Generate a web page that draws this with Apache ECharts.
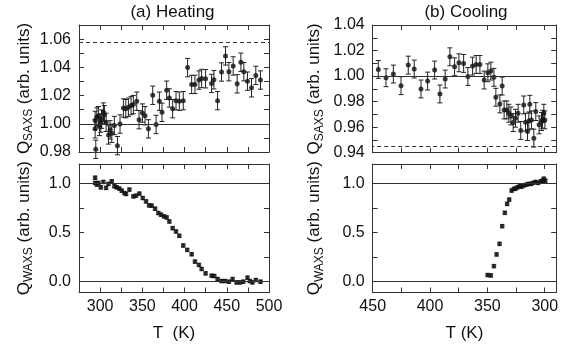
<!DOCTYPE html>
<html><head><meta charset="utf-8">
<script src="https://cdn.jsdelivr.net/npm/echarts@6/dist/echarts.min.js"></script>
<style>html,body{margin:0;padding:0;background:#fff}#c{width:570px;height:351px}</style>
</head><body><div id="c"></div>
<script>
// ---- data ----
const heatSaxsT=[294.1,294.1,294.9,296.1,298.0,299.2,300.8,301.9,303.9,305.1,307.1,309.9,311.8,313.8,316.9,320.5,323.6,327.6,330.4,333.5,336.7,339.4,343.4,346.1,350.1,353.2,357.2,362.3,366.3,370.2,373.3,378.8,382.0,385.9,389.9,393.8,398.5,403.6,408.4,412.3,417.0,420.2,424.9,432.0,434.8,439.1,443.8,448.5,452.5,457.6,462.3,466.7,470.2,474.5,479.3,484.4,489.9];
const heatSaxsQ=[1.0024,0.9964,0.9819,1.0048,1.0057,0.9981,1.0005,1.0033,1.0083,1.0064,1.0010,0.9921,0.9957,0.9933,0.9988,0.9845,0.9998,1.0112,1.0107,1.0117,1.0129,1.0136,1.0160,1.0029,1.0076,1.0057,0.9964,1.0202,0.9995,1.0160,1.0081,1.0238,1.0183,1.0107,1.0164,1.0160,1.0164,1.0398,1.0279,1.0279,1.0310,1.0321,1.0319,1.0286,1.0312,1.0164,1.0367,1.0481,1.0369,1.0410,1.0283,1.0436,1.0369,1.0302,1.0255,1.0343,1.0310];
const heatSaxsErr=0.0065;

const heatWaxsT=[294.1,294.1,296.1,298.0,300.8,303.9,307.1,309.9,313.8,316.9,319.7,322.8,325.6,328.8,330.7,334.7,339.4,342.6,346.5,350.5,354.4,358.0,361.1,365.1,369.0,372.1,375.7,378.8,382.0,385.9,389.9,393.8,398.5,403.2,408.4,412.3,417.0,420.2,424.9,432.0,435.2,439.1,443.8,447.8,452.5,456.9,461.6,465.5,469.5,474.5,477.3,480.4,484.4,489.9];
const heatWaxsQ=[1.06,1.007,0.990,1.007,0.962,1.017,0.956,0.997,1.024,0.973,0.962,0.949,0.928,0.904,0.894,0.939,0.870,0.877,0.898,0.853,0.819,0.778,0.775,0.744,0.700,0.683,0.666,0.655,0.614,0.546,0.512,0.468,0.369,0.324,0.280,0.205,0.171,0.130,0.085,0.061,0.058,0.027,0.007,0.007,0.000,0.027,-0.007,-0.007,0.000,0.041,0.007,-0.007,0.017,0.000];

const coolSaxsT=[445.1,438.4,432.0,425.3,419.0,413.8,407.9,402.1,396.0,391.4,386.8,382.7,378.6,374.8,370.7,367.0,362.9,359.8,356.5,352.8,349.6,347.0,344.3,342.6,339.1,337.1,335.4,333.0,331.3,329.5,327.5,325.5,323.2,320.9,318.3,316.8,315.0,313.9,313.0,311.6,309.5,307.8,304.9,302.8,301.9,300.8,299.9];
const coolSaxsQ=[1.0052,0.9987,1.0016,0.9925,1.0086,1.0055,0.9899,0.9961,1.0047,0.9860,0.9977,1.0151,1.0073,1.0104,1.0099,0.9997,1.0078,1.0091,1.0091,0.9969,1.0026,1.0039,0.9990,0.9834,0.9782,0.9922,0.9735,0.9735,0.9709,0.9688,0.9636,0.9670,0.9709,0.9574,0.9774,0.9639,0.9566,0.9649,0.9779,0.9657,0.9514,0.9722,0.9618,0.9644,0.9662,0.9709,0.9657];
const coolSaxsErr=0.007;

const coolWaxsT=[349.8,347.0,344.3,342.0,339.4,337.1,334.8,332.8,331.0,328.9,326.9,325.5,323.7,321.7,320.2,318.0,315.9,313.9,312.1,310.1,308.0,305.8,303.5,302.0,300.8,299.5];
const coolWaxsQ=[0.068,0.064,0.159,0.278,0.386,0.566,0.702,0.793,0.837,0.929,0.946,0.949,0.963,0.973,0.969,0.983,0.990,0.997,0.997,1.007,1.017,1.007,1.024,1.030,1.050,1.030];
const waxsErr=0.015;

// reference lines
const heatSaxsSolid=[1.00], heatSaxsDashed=[1.058];
const coolSaxsSolid=[1.00], coolSaxsDashed=[0.945];
const waxsSolid=[0.0,1.0];

// ticks and tick labels
const heatTTicks=[300,325,350,375,400,425,450,475,500];
const heatTLabels=[300,350,400,450,500];
const coolTTicks=[300,325,350,375,400,425,450];
const coolTLabels=[300,350,400,450];
const heatSaxsTicks=[0.98,0.99,1.00,1.01,1.02,1.03,1.04,1.05,1.06];
const heatSaxsLabels=[0.98,1.00,1.02,1.04,1.06];
const coolSaxsTicks=[0.94,0.95,0.96,0.97,0.98,0.99,1.00,1.01,1.02,1.03];
const coolSaxsLabels=[0.94,0.96,0.98,1.00,1.02,1.04];
const waxsTicks=[0,0.25,0.5,0.75,1.0];
const waxsLabels=[0,0.5,1.0];

// ---- chart ----
const FONT='Liberation Sans';
const AX='#333';
const grids=[
  {left:79,top:25,width:190,height:127},
  {left:79,top:164,width:190,height:128.5},
  {left:372.7,top:25,width:183.5,height:127.7},
  {left:372.7,top:164,width:183.5,height:128.5}
];
function axisBase(gi,pos,min,max,ticks,labels,showLabels,dec){
  return {type:'value',gridIndex:gi,position:pos,min:min,max:max,
    axisLine:{show:true,onZero:false,lineStyle:{color:AX,width:1}},
    axisTick:{show:true,inside:true,length:5,customValues:ticks,lineStyle:{color:AX,width:1}},
    axisLabel:{show:showLabels,customValues:labels,margin:showLabels&&(pos==='left'||pos==='right')?8:6,
      fontSize:16,fontFamily:FONT,color:'#111',formatter:v=>Number(v).toFixed(dec)},
    splitLine:{show:false}};
}
const richY={q:{fontSize:17,fontFamily:FONT,color:'#111',lineHeight:22},
  s:{fontSize:12,fontFamily:FONT,color:'#111',lineHeight:12,verticalAlign:'bottom'},
  n:{fontSize:17,fontFamily:FONT,color:'#111',lineHeight:22}};
function yName(ax,sub,gap){
  ax.name='{q|Q}{s|'+sub+'}{n| (arb. units)}';
  ax.nameLocation='middle';ax.nameRotate=90;ax.nameGap=gap;
  ax.nameTextStyle={rich:richY};
  return ax;
}
const xName={fontSize:17,fontFamily:FONT,color:'#111'};
const xAxes=[
  axisBase(0,'bottom',275,500,heatTTicks,heatTLabels,false,0),
  axisBase(0,'top',275,500,heatTTicks,heatTLabels,false,0),
  Object.assign(axisBase(1,'bottom',275,500,heatTTicks,heatTLabels,true,0),{name:'T  (K)',nameLocation:'middle',nameGap:32,nameTextStyle:xName}),
  axisBase(1,'top',275,500,heatTTicks,heatTLabels,false,0),
  Object.assign(axisBase(2,'bottom',290,450,coolTTicks,coolTLabels,false,0),{inverse:true}),
  Object.assign(axisBase(2,'top',290,450,coolTTicks,coolTLabels,false,0),{inverse:true}),
  Object.assign(axisBase(3,'bottom',290,450,coolTTicks,coolTLabels,true,0),{inverse:true,name:'T (K)',nameLocation:'middle',nameGap:32,nameTextStyle:xName}),
  Object.assign(axisBase(3,'top',290,450,coolTTicks,coolTLabels,false,0),{inverse:true})
];
const yAxes=[
  yName(axisBase(0,'left',0.98,1.07,heatSaxsTicks,heatSaxsLabels,true,2),'SAXS',44),
  axisBase(0,'right',0.98,1.07,heatSaxsTicks,heatSaxsLabels,false,2),
  yName(axisBase(1,'left',-0.11,1.2,waxsTicks,waxsLabels,true,1),'WAXS',44),
  axisBase(1,'right',-0.11,1.2,waxsTicks,waxsLabels,false,1),
  yName(axisBase(2,'left',0.94,1.04,coolSaxsTicks,coolSaxsLabels,true,2),'SAXS',47),
  axisBase(2,'right',0.94,1.04,coolSaxsTicks,coolSaxsLabels,false,2),
  yName(axisBase(3,'left',-0.11,1.2,waxsTicks,waxsLabels,true,1),'WAXS',47),
  axisBase(3,'right',-0.11,1.2,waxsTicks,waxsLabels,false,1)
];
function errSeries(idx,T,Q,err,cap){
  return {type:'custom',xAxisIndex:idx,yAxisIndex:idx,silent:true,z:2,
    data:T.map((t,i)=>[t,Q[i],err]),
    renderItem:function(p,api){
      const x=api.value(0),y=api.value(1),e=api.value(2);
      const a=api.coord([x,y-e]),b=api.coord([x,y+e]);
      const st={stroke:'#222',lineWidth:1};
      return {type:'group',children:[
        {type:'line',shape:{x1:a[0],y1:a[1],x2:b[0],y2:b[1]},style:st},
        {type:'line',shape:{x1:a[0]-cap,y1:a[1],x2:a[0]+cap,y2:a[1]},style:st},
        {type:'line',shape:{x1:b[0]-cap,y1:b[1],x2:b[0]+cap,y2:b[1]},style:st}]};
    }};
}
function refLines(solid,dashed){
  const d=solid.map(v=>({yAxis:v}));
  dashed.forEach(v=>d.push({yAxis:v,lineStyle:{type:[4,3]}}));
  return {silent:true,precision:4,symbol:['none','none'],label:{show:false},animation:false,
    lineStyle:{color:'#333',width:1,type:'solid'},data:d};
}
function pts(idx,T,Q,symbol,size,ml){
  return {type:'scatter',xAxisIndex:idx,yAxisIndex:idx,symbol:symbol,symbolSize:size,z:3,
    itemStyle:{color:'#111'},data:T.map((t,i)=>[t,Q[i]]),markLine:ml};
}
const option={
  animation:false,
  grid:grids,
  xAxis:xAxes,
  yAxis:yAxes,
  graphic:[
    {type:'text',style:{text:'(a) Heating',x:172.5,y:12,textAlign:'center',textVerticalAlign:'middle',fontSize:17,fontFamily:FONT,fill:'#111'}},
    {type:'text',style:{text:'(b) Cooling',x:466,y:12,textAlign:'center',textVerticalAlign:'middle',fontSize:17,fontFamily:FONT,fill:'#111'}}
  ],
  series:[
    errSeries(0,heatSaxsT,heatSaxsQ,heatSaxsErr,2.5),
    pts(0,heatSaxsT,heatSaxsQ,'circle',5,refLines(heatSaxsSolid,heatSaxsDashed)),
    errSeries(2,heatWaxsT,heatWaxsQ,waxsErr,1.5),
    pts(2,heatWaxsT,heatWaxsQ,'rect',4.5,refLines(waxsSolid,[])),
    errSeries(4,coolSaxsT,coolSaxsQ,coolSaxsErr,2.5),
    pts(4,coolSaxsT,coolSaxsQ,'circle',5,refLines(coolSaxsSolid,coolSaxsDashed)),
    errSeries(6,coolWaxsT,coolWaxsQ,waxsErr,1.5),
    pts(6,coolWaxsT,coolWaxsQ,'rect',4.5,refLines(waxsSolid,[]))
  ]
};
const chart=echarts.init(document.getElementById('c'),null,{renderer:'canvas'});
chart.setOption(option);
</script></body></html>
